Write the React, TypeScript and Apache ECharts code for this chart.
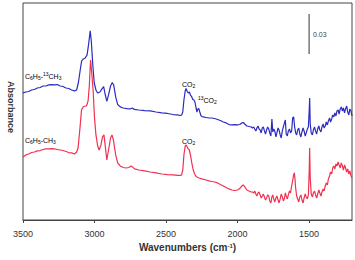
import React, { useEffect, useRef } from "react";
import * as echarts from "echarts";

// Wavenumber (cm-1), absorbance
const spectrum13C: [number, number][] = [
  [3500, 0.0953], [3480, 0.096], [3460, 0.0964], [3440, 0.0975], [3420, 0.0979], [3400, 0.099],
  [3380, 0.0994], [3360, 0.1005], [3340, 0.1005], [3320, 0.1013], [3300, 0.1016], [3280, 0.1013],
  [3260, 0.1016], [3240, 0.1005], [3220, 0.1001], [3200, 0.099], [3180, 0.0986], [3160, 0.0975],
  [3140, 0.0968], [3125, 0.0975], [3112, 0.1035], [3100, 0.1125], [3090, 0.1193], [3078, 0.1208],
  [3065, 0.1215], [3052, 0.1238], [3042, 0.1313], [3030, 0.1418], [3022, 0.1335], [3012, 0.1163],
  [3002, 0.1028], [2990, 0.0975], [2978, 0.0953], [2962, 0.096], [2948, 0.0983], [2936, 0.1001],
  [2926, 0.0945], [2914, 0.0889], [2902, 0.0938], [2888, 0.1005], [2876, 0.1031], [2866, 0.1013],
  [2852, 0.0923], [2838, 0.0866], [2820, 0.0848], [2800, 0.084], [2775, 0.0836], [2750, 0.0833],
  [2735, 0.084], [2722, 0.0829], [2690, 0.0825], [2650, 0.0821], [2610, 0.0818], [2570, 0.081],
  [2530, 0.0803], [2490, 0.0799], [2450, 0.0791], [2420, 0.0788], [2400, 0.0784], [2391, 0.0788],
  [2383, 0.081], [2375, 0.09], [2366, 0.0968], [2360, 0.0986], [2352, 0.0964], [2345, 0.0953],
  [2337, 0.096], [2328, 0.0934], [2320, 0.0923], [2313, 0.0904], [2305, 0.09], [2298, 0.0885],
  [2290, 0.084], [2284, 0.081], [2278, 0.0833], [2271, 0.0836], [2264, 0.081], [2255, 0.078],
  [2240, 0.0773], [2220, 0.0769], [2200, 0.0765], [2180, 0.0765], [2160, 0.0761], [2140, 0.0754],
  [2120, 0.0746], [2100, 0.0735], [2080, 0.0728], [2060, 0.0716], [2040, 0.0713], [2020, 0.0716],
  [2000, 0.0713], [1985, 0.0716], [1970, 0.0728], [1960, 0.0731], [1950, 0.072], [1935, 0.0705],
  [1920, 0.0701], [1905, 0.0698],
  [1895, 0.069], [1887, 0.0698], [1880, 0.0683], [1872, 0.0668], [1865, 0.069], [1857, 0.0705],
  [1850, 0.0683], [1842, 0.0675], [1835, 0.0653], [1827, 0.069], [1820, 0.0698], [1812, 0.0668],
  [1805, 0.0645], [1797, 0.0675], [1790, 0.0698], [1782, 0.0683], [1775, 0.0653], [1767, 0.063],
  [1760, 0.0758], [1754, 0.066], [1747, 0.0683], [1740, 0.0668], [1732, 0.0623], [1725, 0.0653],
  [1717, 0.069], [1710, 0.0675], [1702, 0.0638], [1695, 0.0615], [1687, 0.0668], [1680, 0.0698],
  [1672, 0.0728], [1666, 0.075], [1660, 0.0645], [1652, 0.063], [1645, 0.0668], [1637, 0.0683],
  [1630, 0.0653], [1622, 0.0668], [1615, 0.0765], [1608, 0.0773], [1601, 0.0698], [1594, 0.0653],
  [1587, 0.0638], [1580, 0.0675], [1572, 0.069], [1565, 0.0645], [1557, 0.0623], [1550, 0.066],
  [1542, 0.069], [1535, 0.0668], [1527, 0.063], [1520, 0.0653], [1512, 0.0683], [1505, 0.0698],
  [1499, 0.0825], [1496, 0.0915], [1492, 0.072], [1485, 0.0653], [1477, 0.0638], [1470, 0.0675],
  [1462, 0.0698], [1455, 0.0668], [1447, 0.0645], [1440, 0.0683], [1432, 0.0705], [1425, 0.0675],
  [1417, 0.066], [1410, 0.0698], [1402, 0.072], [1395, 0.069], [1387, 0.0705], [1380, 0.0735],
  [1372, 0.0713], [1365, 0.0743], [1357, 0.0765], [1350, 0.0735], [1342, 0.0758], [1335, 0.0788],
  [1327, 0.0773], [1320, 0.0803], [1312, 0.078], [1305, 0.0818], [1297, 0.0825], [1290, 0.0795],
  [1282, 0.0833], [1275, 0.0848], [1267, 0.0818], [1260, 0.084], [1252, 0.0803], [1245, 0.0833],
  [1237, 0.0855], [1230, 0.081], [1222, 0.0788], [1215, 0.0833], [1207, 0.0818], [1200, 0.078],
];

const spectrum12C: [number, number][] = [
  [3500, 0.0473], [3480, 0.0488], [3460, 0.0495], [3440, 0.0506], [3420, 0.051], [3400, 0.0518],
  [3380, 0.0521], [3360, 0.0529], [3340, 0.0533], [3320, 0.0533], [3300, 0.0536], [3280, 0.0533],
  [3260, 0.0529], [3240, 0.0525], [3220, 0.0521], [3200, 0.0514], [3180, 0.0506], [3160, 0.0503],
  [3140, 0.0495], [3125, 0.051], [3115, 0.054], [3103, 0.0675], [3091, 0.0825], [3080, 0.0848],
  [3066, 0.0855], [3056, 0.0855], [3045, 0.0893], [3036, 0.1013], [3028, 0.12], [3020, 0.111],
  [3010, 0.0975], [3000, 0.0765], [2990, 0.0638], [2978, 0.0555], [2968, 0.0525], [2955, 0.0563],
  [2944, 0.0623], [2934, 0.0638], [2926, 0.0563], [2914, 0.045], [2902, 0.0525], [2888, 0.0615],
  [2878, 0.0638], [2868, 0.06], [2852, 0.0488], [2838, 0.0428], [2820, 0.0405], [2800, 0.0394],
  [2780, 0.039], [2760, 0.0394], [2745, 0.0405], [2735, 0.0398], [2720, 0.0383], [2690, 0.0375],
  [2650, 0.0368], [2610, 0.036], [2570, 0.0353], [2530, 0.0345], [2490, 0.0341], [2450, 0.0338],
  [2420, 0.0334], [2400, 0.0334], [2391, 0.0338], [2383, 0.0375], [2375, 0.0488], [2366, 0.0555],
  [2360, 0.0563], [2352, 0.0548], [2345, 0.0533], [2337, 0.0525], [2328, 0.048], [2320, 0.0428],
  [2310, 0.0375], [2300, 0.0345], [2290, 0.0326], [2270, 0.0315], [2250, 0.0308], [2220, 0.03],
  [2200, 0.0293], [2180, 0.0289], [2160, 0.0285], [2140, 0.0278], [2120, 0.0266], [2100, 0.0255],
  [2080, 0.0244], [2060, 0.0233], [2040, 0.0225], [2020, 0.0221], [2000, 0.0225], [1985, 0.0236],
  [1970, 0.0255], [1960, 0.0263], [1950, 0.0248], [1935, 0.0225], [1920, 0.0218], [1905, 0.021],
  [1895, 0.021], [1887, 0.0203], [1880, 0.0218], [1872, 0.0195], [1865, 0.018], [1857, 0.0203],
  [1850, 0.021], [1842, 0.0188], [1835, 0.0165], [1827, 0.018], [1820, 0.0195], [1812, 0.0173],
  [1805, 0.015], [1797, 0.0165], [1790, 0.0188], [1782, 0.018], [1775, 0.0143], [1767, 0.0128],
  [1760, 0.0173], [1754, 0.0188], [1747, 0.0158], [1740, 0.0135], [1732, 0.0165], [1725, 0.018],
  [1717, 0.015], [1710, 0.0128], [1702, 0.0158], [1695, 0.0195], [1687, 0.0173], [1680, 0.0143],
  [1672, 0.0165], [1666, 0.0203], [1660, 0.018], [1652, 0.0158], [1645, 0.0188], [1637, 0.0218],
  [1630, 0.0203], [1622, 0.0255], [1615, 0.0293], [1608, 0.0338], [1603, 0.0353], [1598, 0.03],
  [1594, 0.024], [1587, 0.018], [1580, 0.0158], [1572, 0.0135], [1565, 0.0173], [1557, 0.0188],
  [1550, 0.015], [1542, 0.0128], [1535, 0.0165], [1527, 0.0195], [1520, 0.0173], [1512, 0.0158],
  [1505, 0.0188], [1499, 0.0375], [1496, 0.054], [1492, 0.0315], [1485, 0.0195], [1477, 0.0173],
  [1470, 0.0203], [1462, 0.0218], [1455, 0.0188], [1447, 0.0165], [1440, 0.0195], [1432, 0.0225],
  [1425, 0.0203], [1417, 0.018], [1410, 0.021], [1402, 0.0233], [1395, 0.0218], [1387, 0.0255],
  [1380, 0.0278], [1372, 0.0263], [1365, 0.0308], [1357, 0.033], [1350, 0.036], [1342, 0.0345],
  [1335, 0.039], [1327, 0.0405], [1320, 0.0383], [1312, 0.042], [1305, 0.0405], [1297, 0.0435],
  [1290, 0.0413], [1282, 0.039], [1275, 0.0428], [1267, 0.0405], [1260, 0.0375], [1252, 0.0413],
  [1245, 0.039], [1237, 0.036], [1230, 0.0383], [1222, 0.0345], [1215, 0.0368], [1207, 0.033],
  [1200, 0.0315],
];

const xTicks = [3500, 3000, 2500, 2000, 1500];
const scaleBar: [number, number][] = [[1500, 0.1245], [1500, 0.1545]];
const scaleBarLabel = "0.03";

const FONT = "Liberation Sans, Arial, sans-serif";
const TXT = "#333";

const richChem = {
  n: { fontSize: 7, lineHeight: 9, color: TXT, fontFamily: FONT, verticalAlign: "middle" },
  b: { fontSize: 5, lineHeight: 5, color: TXT, fontFamily: FONT, verticalAlign: "bottom" },
  p: { fontSize: 5, lineHeight: 5, color: TXT, fontFamily: FONT, verticalAlign: "top" },
};

export default function App() {
  const ref = useRef<HTMLDivElement>(null);
  useEffect(() => {
    document.body.style.margin = "0";
    if (!ref.current) return;
    const chart = echarts.init(ref.current, null, { renderer: "svg" });
    chart.setOption({
      animation: false,
      backgroundColor: "#fff",
      grid: { left: 23, right: 3, top: 3, bottom: 40, show: true, borderColor: "#444", borderWidth: 1 },
      xAxis: {
        type: "value",
        min: 1200,
        max: 3500,
        inverse: true,
        name: "Wavenumbers (cm{s|-1})",
        nameLocation: "middle",
        nameGap: 20,
        nameTextStyle: {
          fontSize: 10,
          fontWeight: "bold",
          color: TXT,
          fontFamily: FONT,
          rich: { s: { fontSize: 6, fontWeight: "bold", color: TXT, fontFamily: FONT, verticalAlign: "top", lineHeight: 6 } },
        },
        axisLine: { show: true, lineStyle: { color: "#444", width: 1 } },
        axisTick: { show: true, customValues: xTicks, length: 3, lineStyle: { color: "#444" } },
        axisLabel: {
          customValues: xTicks,
          fontSize: 9,
          color: TXT,
          fontFamily: FONT,
          margin: 9,
          formatter: (v: number) => String(v),
        },
        splitLine: { show: false },
      },
      yAxis: {
        type: "value",
        min: 0,
        max: 0.16275,
        show: false,
      },
      series: [
        {
          type: "line",
          data: spectrum13C,
          showSymbol: false,
          lineStyle: { color: "#2b2bbf", width: 1.2 },
          z: 2,
        },
        {
          type: "line",
          data: spectrum12C,
          showSymbol: false,
          lineStyle: { color: "#f2304f", width: 1.2 },
          z: 3,
        },
        {
          type: "line",
          data: scaleBar,
          showSymbol: false,
          lineStyle: { color: "#333", width: 1 },
          z: 4,
        },
      ],
      graphic: [
        {
          type: "text",
          x: 11,
          y: 107,
          rotation: -Math.PI / 2,
          style: { text: "Absorbance", fontSize: 9, fontWeight: "bold", fill: TXT, fontFamily: FONT, align: "center", verticalAlign: "middle" },
        },
        {
          type: "text",
          x: 313,
          y: 34,
          style: { text: scaleBarLabel, fontSize: 7, fill: "#444", fontFamily: FONT, align: "left", verticalAlign: "middle" },
        },
        {
          type: "text",
          x: 25,
          y: 76,
          style: { text: "{n|C}{b|6}{n|H}{b|5}{n|-}{p|13}{n|CH}{b|3}", rich: richChem, align: "left", verticalAlign: "middle" },
        },
        {
          type: "text",
          x: 25,
          y: 140,
          style: { text: "{n|C}{b|6}{n|H}{b|5}{n|-CH}{b|3}", rich: richChem, align: "left", verticalAlign: "middle" },
        },
        {
          type: "text",
          x: 182,
          y: 84,
          style: { text: "{n|CO}{b|2}", rich: richChem, align: "left", verticalAlign: "middle" },
        },
        {
          type: "text",
          x: 198,
          y: 100,
          style: { text: "{p|13}{n|CO}{b|2}", rich: richChem, align: "left", verticalAlign: "middle" },
        },
        {
          type: "text",
          x: 182,
          y: 141,
          style: { text: "{n|CO}{b|2}", rich: richChem, align: "left", verticalAlign: "middle" },
        },
      ],
    });
    return () => chart.dispose();
  }, []);
  return <div ref={ref} style={{ width: 355, height: 260 }} />;
}
